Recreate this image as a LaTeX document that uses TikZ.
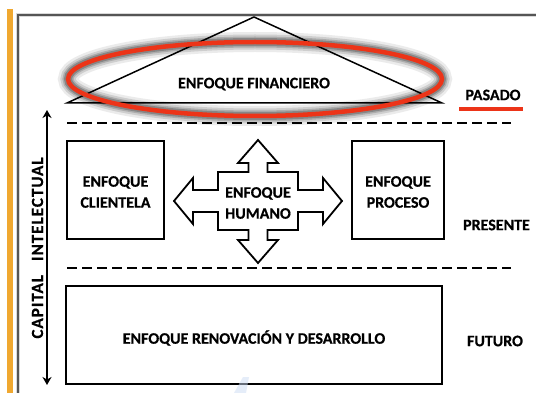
\documentclass[tikz,border=0pt]{standalone}
\usepackage{fontspec}
\setmainfont{Carlito}[BoldFeatures={FakeBold=0.6}]
\usetikzlibrary{arrows.meta}
\definecolor{barorange}{RGB}{240,168,48}
\definecolor{framegray}{RGB}{85,85,85}
\definecolor{ringred}{RGB}{236,52,24}
\definecolor{markblue}{RGB}{205,220,245}
\tikzset{
  lbl/.style={font=\fontsize{16}{21}\selectfont\bfseries, inner sep=0pt, align=center},
  focusbox/.style={draw, line width=1.8pt, minimum width=#1, inner sep=0pt},
  sepline/.style={line width=2.6pt, dash pattern=on 9.5pt off 5.5pt},
  crossshape/.style={draw, line width=1.8pt, fill=white, line join=miter},
}
\begin{document}
\begin{tikzpicture}[x=1pt,y=-1pt]
  \useasboundingbox (0,0) rectangle (536,393);
  \fill[white] (0,0) rectangle (536,393);

  % side bar and outer frame
  \fill[barorange] (7,9) rectangle (12.5,393);
  \begin{scope}
    \clip (0,0) rectangle (536,393);
    \draw[gray!30, line width=4pt] (18,15) rectangle (560,420);
    \draw[framegray, line width=1.6pt] (18,15) rectangle (560,420);
  \end{scope}

  % financial focus: triangle inside a glowing ring
  \coordinate (apex) at (254,17);
  \coordinate (bl) at (67,103);
  \coordinate (br) at (442,103);
  \draw[line width=1.5pt, line join=miter] (apex) -- (bl) -- (br) -- cycle;
  \coordinate (ring) at (255,79);
  \foreach \w/\o in {20/0.08, 15/0.12, 11/0.16, 8/0.22}
    \draw[black, opacity=\o, line width=\w pt] (ring) ellipse [x radius=187pt, y radius=37pt];
  \draw[ringred, line width=4.5pt] (ring) ellipse [x radius=187pt, y radius=37pt];
  \node[lbl] (fin) at (254,84) {ENFOQUE FINANCIERO};

  % time labels
  \node[lbl] (pasado) at (493,95) {PASADO};
  \coordinate (ul1) at (459,109);
  \coordinate (ul2) at (523,109);
  \draw[ringred, line width=4.5pt] (ul1) -- (ul2);
  \node[lbl] (presente) at (496.5,225) {PRESENTE};
  \node[lbl] (futuro) at (495,341) {FUTURO};

  % dashed separators
  \coordinate (d1a) at (67,123);
  \coordinate (d1b) at (511,123);
  \coordinate (d2a) at (67,268);
  \coordinate (d2b) at (511,268);
  \draw[sepline] (d1a) -- (d1b);
  \draw[sepline] (d2a) -- (d2b);

  % intellectual capital axis
  \coordinate (ctop) at (47,110);
  \coordinate (cbot) at (47,385);
  \draw[line width=1.8pt, {Stealth[length=8pt,width=9pt,inset=2.5pt]}-{Stealth[length=8pt,width=9pt,inset=2.5pt]}] (ctop) -- (cbot);
  \node[lbl, rotate=90, font=\fontsize{17}{20}\selectfont\bfseries\addfontfeature{LetterSpace=6}] (capital) at (37.5,248) {CAPITAL\hspace{14pt}INTELECTUAL};

  % present focuses
  \node[focusbox=97pt, minimum height=98pt] (cliente) at (115.5,190) {};
  \node[lbl] (clientetxt) at (115.5,192) {ENFOQUE\\CLIENTELA};
  \node[focusbox=92pt, minimum height=98pt] (proceso) at (398,190) {};
  \node[lbl] (procesotxt) at (398,192) {ENFOQUE\\PROCESO};

  % four-way arrow of the human focus
  \coordinate (hc) at (258,201);
  \draw[crossshape, shift={(hc)}]
    (0,-61) -- (20,-38) -- (9.5,-38) -- (9.5,-29) -- (40,-29) -- (40,-11)
    -- (65,-11) -- (65,-23) -- (84,0) -- (65,23) -- (65,11) -- (40,11)
    -- (40,29) -- (9.5,29) -- (9.5,39) -- (20,39) -- (0,62) -- (-20,39)
    -- (-9.5,39) -- (-9.5,29) -- (-40,29) -- (-40,11) -- (-65,11)
    -- (-65,23) -- (-84,0) -- (-65,-23) -- (-65,-11) -- (-40,-11)
    -- (-40,-29) -- (-9.5,-29) -- (-9.5,-38) -- (-20,-38) -- cycle;
  \node[lbl] (humano) at (258,203) {ENFOQUE\\HUMANO};

  % future focus
  \node[focusbox=376pt, minimum height=98pt] (renov) at (254,335) {};
  \node[lbl] (renovtxt) at (254,338) {ENFOQUE RENOVACIÓN Y DESARROLLO};

  % faint blue mark at the lower edge
  \fill[markblue, opacity=0.5] (234,393) -- (243,377) -- (249,377) -- (246,393) -- cycle;
\end{tikzpicture}
\end{document}
